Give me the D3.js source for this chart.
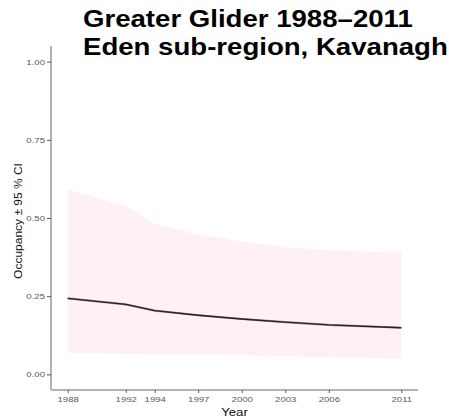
<!DOCTYPE html>
<html>
<head>
<meta charset="utf-8">
<script src="https://cdn.jsdelivr.net/npm/d3@7"></script>
<style>
  html, body { margin: 0; padding: 0; background: #fff; }
  svg { display: block; font-family: "Liberation Sans", Arial, sans-serif; }
</style>
</head>
<body>
<svg id="chart" width="449" height="419"></svg>
<script>
// Survey years and modelled occupancy with 95% confidence interval
const years = [1988, 1992, 1994, 1997, 2000, 2003, 2006, 2011];
const occupancy = [0.243, 0.224, 0.204, 0.189, 0.177, 0.167, 0.158, 0.149];
const lowerCI = [0.069, 0.066, 0.065, 0.063, 0.062, 0.058, 0.055, 0.050];
const upperCI = [0.591, 0.538, 0.482, 0.447, 0.425, 0.407, 0.397, 0.389];
const yTicks = [0, 0.25, 0.5, 0.75, 1];
const titleLines = ["Greater Glider 1988\u20132011", "Eden sub-region, Kavanagh"];

const data = years.map((yr, i) => ({ yr, occ: occupancy[i], lo: lowerCI[i], hi: upperCI[i] }));

const svg = d3.select("#chart");
const plotLeft = 51, plotRight = 418, plotTop = 46, plotBottom = 390;
const textWiden = 1.2; // lettering is set slightly wide

// ggplot-style 5% expansion on both axes
const xExp = (d3.max(years) - d3.min(years)) * 0.05;
const x = d3.scaleLinear()
  .domain([d3.min(years) - xExp, d3.max(years) + xExp])
  .range([plotLeft, plotRight]);
const y = d3.scaleLinear()
  .domain([-0.05, 1.05])
  .range([plotBottom, plotTop]);

// Confidence ribbon
svg.append("path")
  .datum(data)
  .attr("fill", "#fff0f3")
  .attr("d", d3.area().x(d => x(d.yr)).y0(d => y(d.lo)).y1(d => y(d.hi)));

// Occupancy trend
const line = d3.line().x(d => x(d.yr)).y(d => y(d.occ));
svg.append("path").datum(data)
  .attr("fill", "none").attr("stroke", "#9a9a9a").attr("stroke-width", 2.2)
  .attr("d", line);
svg.append("path").datum(data)
  .attr("fill", "none").attr("stroke", "#222").attr("stroke-width", 1.3)
  .attr("d", line);

// Axes
const axisColor = "#b3b3b3";
const labelColor = "#555a66";

const yAxis = svg.append("g").attr("transform", `translate(${plotLeft},0)`)
  .call(d3.axisLeft(y).tickValues(yTicks).tickFormat(d3.format(".2f")).tickSize(4).tickPadding(2));
const xAxis = svg.append("g").attr("transform", `translate(0,${plotBottom})`)
  .call(d3.axisBottom(x).tickValues(years).tickFormat(d3.format("d")).tickSize(3).tickPadding(3));

[yAxis, xAxis].forEach(g => {
  g.select(".domain").attr("stroke", axisColor).attr("stroke-width", 2);
  g.selectAll(".tick line").attr("stroke", "#333").attr("stroke-width", 0.8);
  g.selectAll(".tick text")
    .attr("fill", labelColor)
    .attr("transform", `scale(${textWiden},1)`)
    .style("font-size", "8px")
    .style("font-family", "'Liberation Sans', Arial, sans-serif");
});
yAxis.selectAll(".tick text").attr("x", -6 / textWiden);
xAxis.select(".domain").attr("d", `M${plotLeft},0H${plotRight}`);
yAxis.select(".domain").attr("d", `M0,${plotTop}V${plotBottom}`);

// Axis titles
svg.append("text")
  .attr("transform", `translate(${(plotLeft + plotRight) / 2},416) scale(${textWiden},1)`)
  .attr("text-anchor", "middle")
  .style("font-size", "11px").attr("fill", "#111")
  .text("Year");

svg.append("text")
  .attr("transform", `translate(22,${(plotTop + plotBottom) / 2 + 3}) rotate(-90) scale(${textWiden},1)`)
  .attr("text-anchor", "middle")
  .style("font-size", "10px").attr("fill", "#111")
  .text("Occupancy \u00b1 95 % CI");

// Title
svg.append("g")
  .attr("transform", `translate(83,0) scale(${textWiden},1)`)
  .selectAll("text")
  .data(titleLines).join("text")
  .attr("x", 0).attr("y", (d, i) => 27 + i * 28)
  .style("font-size", "23px").style("font-weight", "bold").attr("fill", "#000")
  .text(d => d);
</script>
</body>
</html>
